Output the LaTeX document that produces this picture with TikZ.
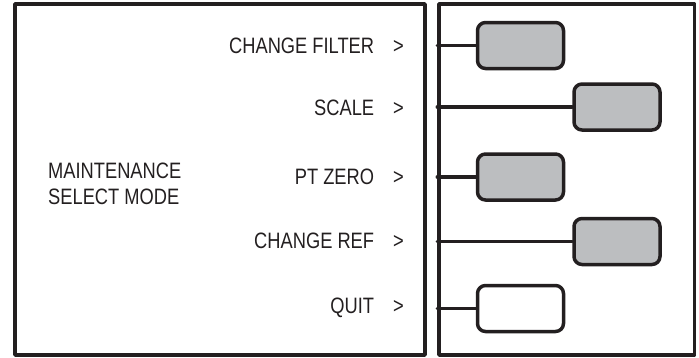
\documentclass[tikz,border=0pt]{standalone}
\usepackage{fontspec}
\setmainfont[FakeStretch=0.82]{Liberation Sans}
\usetikzlibrary{positioning}
\definecolor{panelInk}{RGB}{35,31,32}
\definecolor{keyGray}{RGB}{188,190,192}
\tikzset{every path/.style={line cap=round, line join=round}}

\begin{document}
\begin{tikzpicture}[
    x=1pt, y=-1pt,
    panel/.style={
        draw=panelInk,
        line width=3.5pt,
        inner sep=0pt,
        minimum height=351pt
    },
    softkey/.style={
        draw=panelInk,
        line width=3.5pt,
        rounded corners=8pt,
        fill=keyGray,
        inner sep=0pt,
        minimum width=86pt,
        minimum height=46pt
    },
    blankkey/.style={
        softkey,
        fill=white
    },
    menuitem/.style={
        anchor=base east,
        inner sep=0pt,
        text=panelInk,
        font=\fontsize{22.3}{26}\selectfont
    },
    wire/.style={
        draw=panelInk,
        line width=3.5pt
    }
]
\useasboundingbox (0,0) rectangle (699,357);

\node[panel, minimum width=410pt] (screen) at (220,179.5) {};
\node[panel, minimum width=255.5pt] (keys) at (566.75,179.5) {};

\node[anchor=west, align=left, inner sep=0pt, text=panelInk,
      font=\fontsize{22.3}{26}\selectfont] (mode) at (48,184) {MAINTENANCE\\SELECT MODE};

\node[menuitem] (filter) at (404,53) {CHANGE FILTER\hspace{19pt}>};
\node[menuitem] (scale) at (404,115) {SCALE\hspace{19pt}>};
\node[menuitem] (ptzero) at (404,184.5) {PT ZERO\hspace{19pt}>};
\node[menuitem] (ref) at (404,248.5) {CHANGE REF\hspace{19pt}>};
\node[menuitem] (quit) at (404,313.5) {QUIT\hspace{19pt}>};

\node[softkey] (k1) at (520.5,45.5) {};
\node[softkey] (k2) at (617,107) {};
\node[softkey] (k3) at (520.5,177) {};
\node[softkey] (k4) at (617,241.5) {};
\node[blankkey] (k5) at (520.5,308.5) {};

\draw[wire] (keys.west |- k1) -- (k1.west);
\draw[wire] (keys.west |- k2) -- (k2.west);
\draw[wire] (keys.west |- k3) -- (k3.west);
\draw[wire] (keys.west |- k4) -- (k4.west);
\draw[wire] (keys.west |- k5) -- (k5.west);

\end{tikzpicture}
\end{document}
